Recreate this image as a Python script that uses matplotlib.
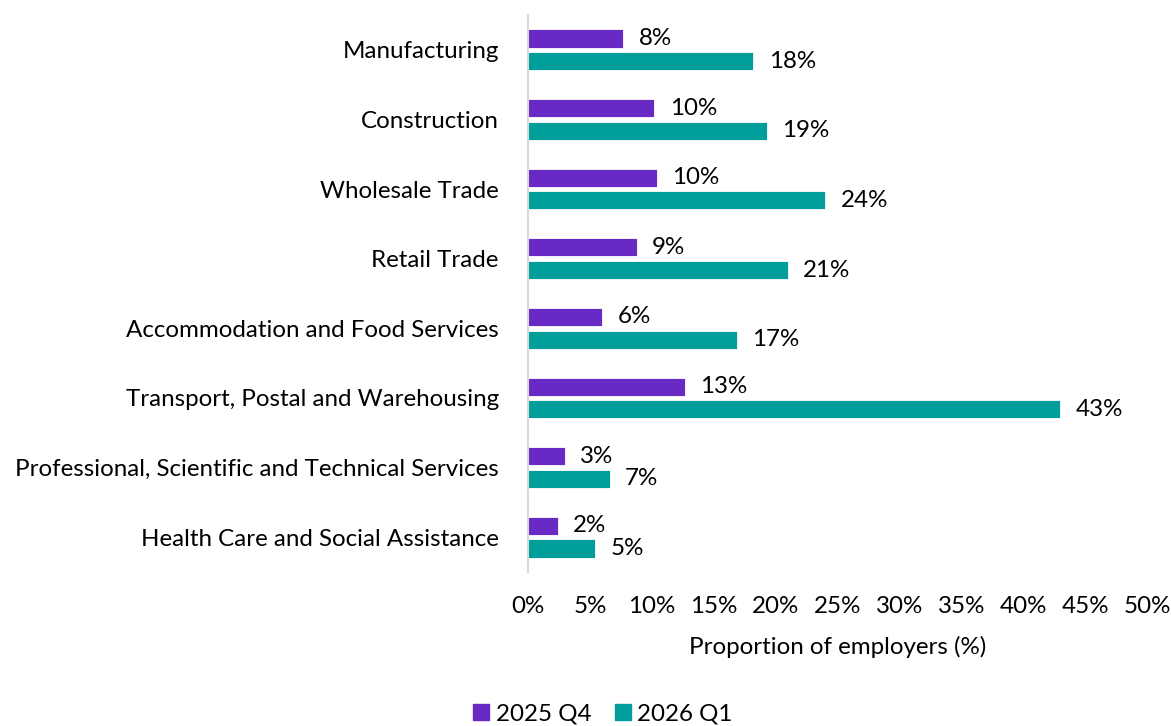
import matplotlib
matplotlib.use("Agg")
import matplotlib.pyplot as plt
from matplotlib.lines import Line2D
import numpy as np

plt.rcParams['font.family'] = ['Lato', 'DejaVu Sans']

categories = [
    "Manufacturing",
    "Construction",
    "Wholesale Trade",
    "Retail Trade",
    "Accommodation and Food Services",
    "Transport, Postal and Warehousing",
    "Professional, Scientific and Technical Services",
    "Health Care and Social Assistance",
]
series_names = ["2025 Q4", "2026 Q1"]
q4_2025 = [7.7, 10.2, 10.4, 8.8, 6.0, 12.7, 3.0, 2.4]
q1_2026 = [18.2, 19.3, 24.0, 21.0, 16.9, 43.0, 6.6, 5.4]
x_ticks = [0, 5, 10, 15, 20, 25, 30, 35, 40, 45, 50]
x_label = "Proportion of employers (%)"

colors = ["#6929C4", "#009D9A"]
W, H = 1171, 726
fig = plt.figure(figsize=(W / 100, H / 100), dpi=100)
ax = fig.add_axes([528 / W, 1 - 572 / H, 619 / W, (572 - 15) / H])

n = len(categories)
y = np.arange(n)
bh = 0.26
gap = 0.065
fs = 17.4

for vals, off, col in [(q4_2025, -(bh + gap) / 2, colors[0]),
                       (q1_2026, (bh + gap) / 2, colors[1])]:
    bars = ax.barh(y + off, vals, height=bh, color=col,
                   edgecolor="white", linewidth=0.6)
    for b, v in zip(bars, vals):
        ax.annotate(f"{v:.0f}%", (v, b.get_y() + b.get_height() / 2),
                    xytext=(11, 0), textcoords="offset points",
                    va="center", ha="left", fontsize=fs, color="black")

ax.set_ylim(n - 0.5, -0.5)
ax.set_xlim(0, 50)
ax.set_yticks(y)
ax.set_yticklabels(categories, fontsize=fs)
ax.set_xticks(x_ticks)
ax.set_xticklabels([f"{t}%" for t in x_ticks], fontsize=fs)
ax.tick_params(axis="both", length=0)
ax.tick_params(axis="y", pad=21)
ax.tick_params(axis="x", pad=17)
ax.set_xlabel(x_label, fontsize=fs, labelpad=14)

for s in ["top", "right", "bottom"]:
    ax.spines[s].set_visible(False)
ax.spines["left"].set_color("#D9D9D9")
ax.spines["left"].set_linewidth(1.5)

handles = [Line2D([], [], marker="s", linestyle="none", markersize=11,
                  markerfacecolor=c, markeredgecolor=c) for c in colors]
fig.legend(handles, series_names, loc="lower center", ncol=2, frameon=False,
           fontsize=fs, bbox_to_anchor=(601 / W, 0.0),
           borderaxespad=0.0, borderpad=0.05,
           handletextpad=0.1, columnspacing=0.8, handlelength=1.0)

fig.savefig("out.png", dpi=100)
